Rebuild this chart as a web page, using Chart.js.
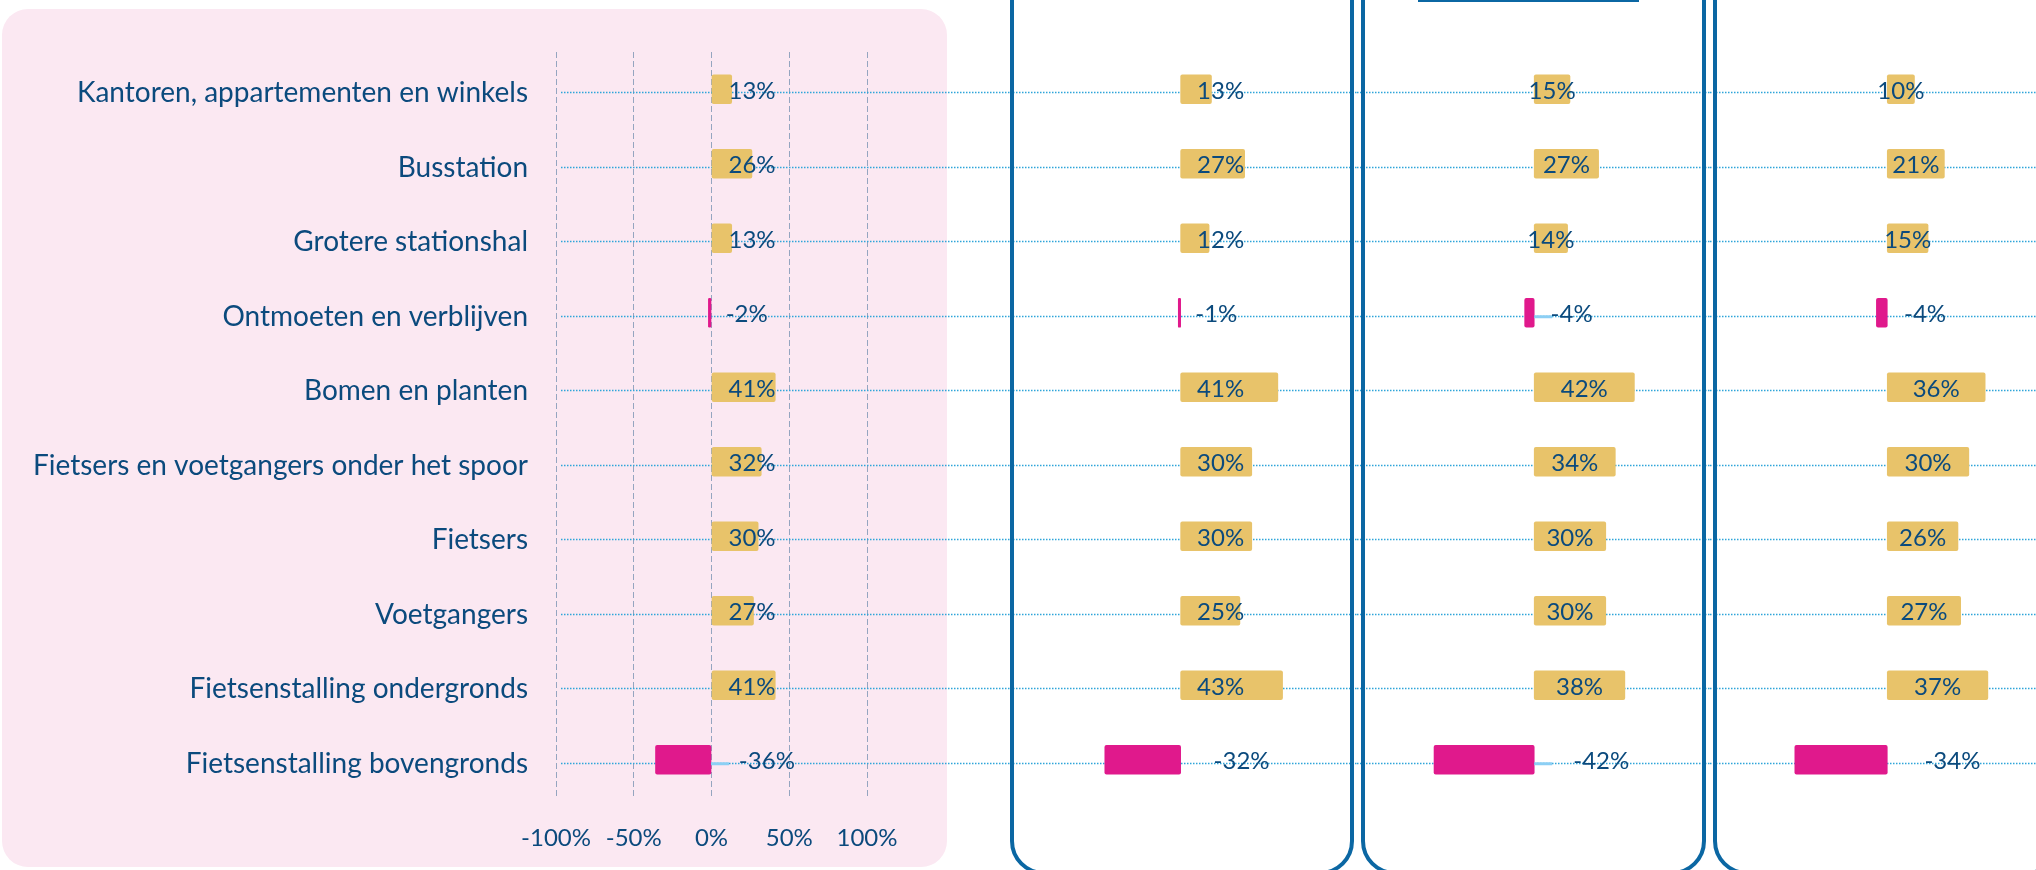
<!DOCTYPE html>
<html>
<head>
<meta charset="utf-8">
<script src="https://cdn.jsdelivr.net/npm/chart.js@4.4.1/dist/chart.umd.min.js"></script>
<style>
  html, body { margin: 0; padding: 0; background: #fff; }
  body { width: 2036px; height: 870px; position: relative; overflow: hidden; }
  .pink { position: absolute; left: 2px; top: 9px; width: 945px; height: 858px; border-radius: 26px; background: #fbe8f2; }
  canvas { position: absolute; top: 0; }
  .box { position: absolute; top: -40px; height: 915px; box-sizing: border-box; border: 4px solid #0b67a3; border-radius: 34px; pointer-events: none; }
  .tab { position: absolute; left: 1418px; top: 0; width: 221px; height: 2px; background: #0b67a3; }
</style>
</head>
<body>
<div class="pink"></div>
<canvas id="c1" width="1010" height="870" style="left:0"></canvas>
<canvas id="c2" width="347" height="870" style="left:1010px"></canvas>
<canvas id="c3" width="353" height="870" style="left:1357px"></canvas>
<canvas id="c4" width="326" height="870" style="left:1710px"></canvas>
<div class="box" style="left:1010px;width:344px"></div>
<div class="box" style="left:1361px;width:345px"></div>
<div class="box" style="left:1713px;width:348px"></div>
<div class="tab"></div>
<script>
const categories = [
    'Kantoren, appartementen en winkels',
    'Busstation',
    'Grotere stationshal',
    'Ontmoeten en verblijven',
    'Bomen en planten',
    'Fietsers en voetgangers onder het spoor',
    'Fietsers',
    'Voetgangers',
    'Fietsenstalling ondergronds',
    'Fietsenstalling bovengronds'
];
const valuesAll = [13, 26, 13, -2, 41, 32, 30, 27, 41, -36];
const valuesGroup2 = [13, 27, 12, -1, 41, 30, 30, 25, 43, -32];
const valuesGroup3 = [15, 27, 14, -4, 42, 34, 30, 30, 38, -42];
const valuesGroup4 = [10, 21, 15, -4, 36, 30, 26, 27, 37, -34];
const xTicks = [-100, -50, 0, 50, 100];

const TEXT = '#0b4a7d';
const GOLD = '#e8c36a';
const MAGENTA = '#e0198c';

// dotted row lines + value labels
const rowDecor = {
    id: 'rowDecor',
    beforeDatasetsDraw(chart, args, opts) {
        const ctx = chart.ctx, ys = chart.scales.y;
        const start = opts.lineStart != null ? chart.chartArea.left + opts.lineStart : 0;
        ctx.save();
        ctx.strokeStyle = '#2fa5d9';
        ctx.lineWidth = 1.5;
        ctx.setLineDash([1.5, 1.5]);
        categories.forEach((c, i) => {
            const py = Math.round(ys.getPixelForValue(i)) + 3.5;
            ctx.beginPath();
            ctx.moveTo(start, py);
            ctx.lineTo(chart.width, py);
            ctx.stroke();
        });
        ctx.restore();
    },
    afterDatasetsDraw(chart, args, opts) {
        const ctx = chart.ctx;
        const meta = chart.getDatasetMeta(0);
        const data = chart.data.datasets[0].data;
        ctx.save();
        ctx.font = '24px Lato';
        ctx.fillStyle = TEXT;
        ctx.textBaseline = 'middle';
        meta.data.forEach((bar, i) => {
            const v = data[i];
            const zero = bar.base;
            const y = bar.y + 2;
            if (v >= 0) {
                ctx.textAlign = 'center';
                const cx = opts.centerOnBar ? (zero + bar.x) / 2 : zero + 40;
                ctx.fillText(v + '%', cx, y);
            } else {
                const len = zero - bar.x;
                if (opts.leader && len > 6) {
                    ctx.strokeStyle = '#8ccff4';
                    ctx.lineWidth = 3;
                    ctx.beginPath();
                    ctx.moveTo(zero, y + 2);
                    ctx.lineTo(zero + 18, y + 2);
                    ctx.stroke();
                }
                ctx.textAlign = 'left';
                ctx.fillText(v + '%', zero + 14 + 0.25 * len, y);
            }
        });
        ctx.restore();
    }
};

function barDataset(values) {
    return {
        data: values,
        backgroundColor: values.map(v => v < 0 ? MAGENTA : GOLD),
        barThickness: 29,
        borderRadius: 2,
        borderSkipped: false
    };
}

// first panel: category axis + x axis
new Chart(document.getElementById('c1'), {
    type: 'bar',
    data: { labels: categories, datasets: [barDataset(valuesAll)] },
    options: {
        indexAxis: 'y',
        responsive: false,
        animation: false,
        events: [],
        layout: { padding: { top: 52, bottom: 19, left: 0, right: 143 } },
        plugins: {
            legend: { display: false },
            tooltip: { enabled: false },
            rowDecor: { lineStart: 5, centerOnBar: false, leader: true }
        },
        scales: {
            y: {
                afterFit: s => { s.width = 556; },
                grid: { display: false },
                border: { display: false },
                ticks: { color: TEXT, font: { family: 'Lato', size: 28 }, padding: 20, labelOffset: 4 }
            },
            x: {
                min: -100,
                max: 100,
                afterBuildTicks: s => { s.ticks = xTicks.map(v => ({ value: v })); },
                afterFit: s => { s.height = 54; },
                grid: { color: '#95a5c0', lineWidth: 1, drawTicks: false },
                border: { display: false, dash: [6, 3] },
                ticks: { color: TEXT, font: { family: 'Lato', size: 24 }, padding: 27, callback: v => v + '%' }
            }
        }
    },
    plugins: [rowDecor]
});

const panels = [
    { id: 'c2', values: valuesGroup2, min: -72, max: 74.4, centerOnBar: false, leader: false },
    { id: 'c3', values: valuesGroup3, min: -74.3, max: 73.7, centerOnBar: true, leader: true },
    { id: 'c4', values: valuesGroup4, min: -65.2, max: 54.7, centerOnBar: true, leader: false }
];

panels.forEach(p => {
    new Chart(document.getElementById(p.id), {
        type: 'bar',
        data: { labels: categories, datasets: [barDataset(p.values)] },
        options: {
            indexAxis: 'y',
            responsive: false,
            animation: false,
            events: [],
            layout: { padding: { top: 52, bottom: 73, left: 0, right: 0 } },
            plugins: {
                legend: { display: false },
                tooltip: { enabled: false },
                rowDecor: { centerOnBar: p.centerOnBar, leader: p.leader }
            },
            scales: {
                y: { display: false },
                x: { display: false, min: p.min, max: p.max }
            }
        },
        plugins: [rowDecor]
    });
});
</script>
</body>
</html>
